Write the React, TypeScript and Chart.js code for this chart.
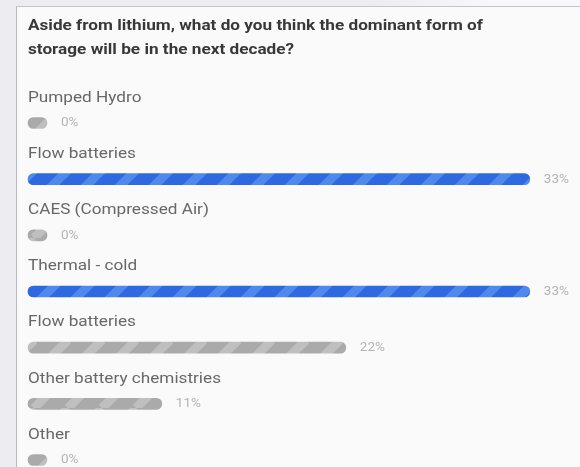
import { useEffect, useRef } from "react"
import { Chart, LinearScale, registerables } from "chart.js"

Chart.register(...registerables)

// poll answers, top to bottom
const answers = [
  "Pumped Hydro",
  "Flow batteries",
  "CAES (Compressed Air)",
  "Thermal - cold",
  "Flow batteries",
  "Other battery chemistries",
  "Other",
]
const shares = [0, 33, 0, 33, 22, 11, 0]
const question = [
  "Aside from lithium, what do you think the dominant form of",
  "storage will be in the next decade?",
]

// the poll widget starts its bars a bit above zero; values below the
// axis minimum sit on the left edge (empty answers get the min stub)
class FloorLinearScale extends LinearScale {
  static id = "floorLinear"
  static defaults = LinearScale.defaults

  getPixelForValue(value: number) {
    return super.getPixelForValue(Math.max(value, this.min))
  }
}
Chart.register(FloorLinearScale)

function stripes(base: string, light: string) {
  const size = 34
  const c = document.createElement("canvas")
  c.width = size
  c.height = size
  const g = c.getContext("2d")!
  g.fillStyle = base
  g.fillRect(0, 0, size, size)
  g.strokeStyle = light
  g.lineWidth = 9
  for (let k = -1; k <= 1; k++) {
    g.beginPath()
    g.moveTo(k * size, size)
    g.lineTo(k * size + size, 0)
    g.stroke()
  }
  return g.createPattern(c, "repeat")!
}

// screenshot text is a little wider than the font, stretch it sideways
function wideText(ctx: CanvasRenderingContext2D, text: string, x: number, y: number, sx = 1.145) {
  ctx.save()
  ctx.translate(x, y)
  ctx.scale(sx, 1)
  ctx.fillText(text, 0, 0)
  ctx.restore()
}

// question on top, answer above each bar, percentage after it
const answerText = {
  id: "answerText",
  afterDatasetsDraw(chart: Chart) {
    const { ctx, chartArea } = chart
    const meta = chart.getDatasetMeta(0)
    ctx.save()
    ctx.textBaseline = "middle"
    ctx.textAlign = "left"

    ctx.font = "bold 15px Roboto"
    ctx.fillStyle = "#383838"
    question.forEach((line, i) => wideText(ctx, line, chartArea.left, 26 + i * 24))

    meta.data.forEach((bar: any, i: number) => {
      const { x, y } = bar.getProps(["x", "y"], true)
      ctx.font = "15px Roboto"
      ctx.fillStyle = "#686868"
      wideText(ctx, String(chart.data.labels![i]), chartArea.left, y - 25)
      ctx.font = "13.5px Roboto"
      ctx.fillStyle = "#b4b4b4"
      ctx.fillText(`${shares[i]}%`, x + 14, y)
    })
    ctx.restore()
  },
}

export default function App() {
  const canvasRef = useRef<HTMLCanvasElement>(null)

  useEffect(() => {
    if (!canvasRef.current) return
    const ctx = canvasRef.current.getContext("2d")
    if (!ctx) return

    const blue = stripes("#2e69df", "#5089ec")
    const grey = stripes("#aaaaaa", "#bfbfbf")
    const top = Math.max(...shares)

    const chart = new Chart(ctx, {
      type: "bar",
      data: {
        labels: answers,
        datasets: [
          {
            data: shares,
            backgroundColor: (c: any) => (shares[c.dataIndex] === top ? blue : grey),
            barThickness: 11,
            borderRadius: 5.5,
            borderSkipped: false,
            minBarLength: 19,
            clip: false as any,
          },
        ],
      },
      options: {
        indexAxis: "y",
        animation: false,
        responsive: true,
        maintainAspectRatio: false,
        layout: { padding: { top: 123, left: 28, right: 0, bottom: 7 } },
        scales: {
          x: { type: "floorLinear" as any, min: 3, max: 36, display: false },
          y: { type: "category", offset: false, display: false },
        },
        plugins: {
          legend: { display: false },
          tooltip: { enabled: false },
        },
      },
      plugins: [answerText],
    })

    return () => chart.destroy()
  }, [])

  return (
    <div
      style={{
        position: "fixed",
        left: 0,
        top: 0,
        width: 580,
        height: 467,
        overflow: "hidden",
        background: "linear-gradient(100deg, #ececf1 55%, #f8f8fa 75%)",
      }}
    >
      <div
        style={{
          position: "absolute",
          left: 16,
          top: 6,
          right: -2,
          bottom: -2,
          background: "#fafafa",
          borderLeft: "1px solid #b8b8c2",
          borderTop: "1px solid #c4c4cc",
        }}
      />
      <div style={{ position: "absolute", left: 0, top: 0, width: 580, height: 467 }}>
        <canvas ref={canvasRef} />
      </div>
    </div>
  )
}
